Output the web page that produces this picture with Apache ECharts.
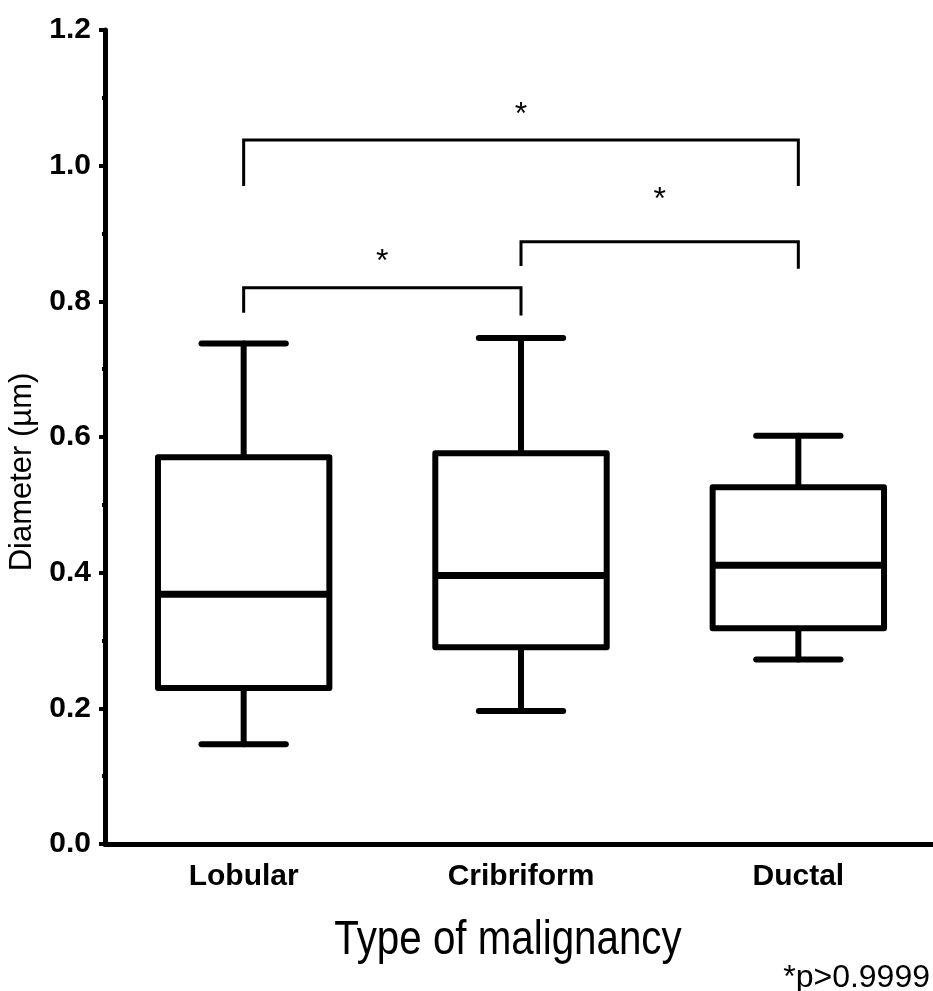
<!DOCTYPE html>
<html>
<head>
<meta charset="utf-8">
<title>Diameter by type of malignancy</title>
<script src="https://cdn.jsdelivr.net/npm/echarts@6/dist/echarts.min.js"></script>
<style>
  html, body { margin: 0; padding: 0; background: #fff; }
  #chart { width: 933px; height: 991px; }
</style>
</head>
<body>
<div id="chart"></div>
<script>
// Groups on the category axis
const categories = ['Lobular', 'Cribriform', 'Ductal'];

// Five-number summary per group (µm)
const whiskerLow  = [0.147, 0.196, 0.272];
const quartile1   = [0.230, 0.290, 0.318];
const medians     = [0.368, 0.396, 0.411];
const quartile3   = [0.570, 0.576, 0.526];
const whiskerHigh = [0.738, 0.746, 0.602];

// Pairwise comparison brackets: group indices, bracket level, drop ends, star level
const pairFrom   = [0, 1, 0];
const pairTo     = [1, 2, 2];
const pairLevel  = [0.820, 0.888, 1.038];
const pairDropL  = [0.783, 0.852, 0.970];
const pairDropR  = [0.779, 0.848, 0.970];
const starLevel  = [0.868, 0.960, 1.085];
const pairMarks  = ['*', '*', '*'];

// Y axis range and tick step
const yMin = 0, yMax = 1.2, yStep = 0.2;

const SANS = "'Liberation Sans', Arial, sans-serif";

const boxData = categories.map((c, i) =>
  [i, whiskerLow[i], quartile1[i], medians[i], quartile3[i], whiskerHigh[i]]);
const pairData = pairFrom.map((f, i) =>
  [f, pairTo[i], pairLevel[i], pairDropL[i], pairDropR[i], starLevel[i]]);

const chart = echarts.init(document.getElementById('chart'), null, { renderer: 'canvas' });

const STAR_SIZE = 32;

chart.setOption({
  backgroundColor: '#fff',
  animation: false,
  grid: {
    left: 105, top: 30, width: 832, height: 814,
    containLabel: false, outerBoundsMode: 'none'
  },
  xAxis: {
    type: 'category',
    data: categories,
    boundaryGap: true,
    axisLine: { lineStyle: { color: '#000', width: 5 } },
    axisTick: { alignWithLabel: true, length: 6, lineStyle: { color: '#000', width: 3 } },
    axisLabel: { color: '#000', fontFamily: SANS, fontWeight: 'bold', fontSize: 30, margin: 18 },
    splitLine: { show: false }
  },
  yAxis: {
    type: 'value',
    min: yMin, max: yMax, interval: yStep,
    axisLine: { show: true, lineStyle: { color: '#000', width: 5 } },
    axisTick: { show: true, length: 6, lineStyle: { color: '#000', width: 4 } },
    minorTick: { show: true, splitNumber: 2, length: 3, lineStyle: { color: '#000', width: 4 } },
    axisLabel: {
      color: '#000', fontFamily: SANS, fontWeight: 'bold', fontSize: 30, margin: 14,
      formatter: v => v.toFixed(1)
    },
    splitLine: { show: false },
    name: 'Diameter (µm)',
    nameLocation: 'middle',
    nameGap: 64,
    nameRotate: 90,
    nameTextStyle: { color: '#000', fontFamily: SANS, fontSize: 31, padding: [0, 70, 0, 0] }
  },
  graphic: [
    {
      // x axis title, drawn slightly condensed
      type: 'text',
      x: 508,
      y: 941,
      scaleX: 0.84,
      style: {
        text: 'Type of malignancy', fill: '#000',
        font: "48px " + SANS, align: 'center', verticalAlign: 'middle'
      }
    },
    {
      type: 'text',
      right: 3,
      bottom: -3,
      style: { text: '*p>0.9999', fill: '#000', font: "32px " + SANS }
    }
  ],
  series: [
    {
      type: 'custom',
      name: 'box',
      clip: false,
      data: boxData,
      renderItem: function (params, api) {
        const i = api.value(0);
        const xc = api.coord([i, 0])[0];
        const band = api.size([1, 0])[0];
        const half = band * 0.309;
        const cap = band * 0.152;
        const pLow = api.coord([i, api.value(1)])[1];
        const pQ1 = api.coord([i, api.value(2)])[1];
        const pMed = api.coord([i, api.value(3)])[1];
        const pQ3 = api.coord([i, api.value(4)])[1];
        const pHigh = api.coord([i, api.value(5)])[1];
        const ln = { stroke: '#000', lineWidth: 6, lineCap: 'round' };
        return {
          type: 'group',
          children: [
            { type: 'line', shape: { x1: xc, y1: pHigh, x2: xc, y2: pQ3 }, style: ln },
            { type: 'line', shape: { x1: xc, y1: pQ1, x2: xc, y2: pLow }, style: ln },
            { type: 'line', shape: { x1: xc - cap, y1: pHigh, x2: xc + cap, y2: pHigh }, style: ln },
            { type: 'line', shape: { x1: xc - cap, y1: pLow, x2: xc + cap, y2: pLow }, style: ln },
            {
              type: 'rect',
              shape: { x: xc - half, y: pQ3, width: half * 2, height: pQ1 - pQ3 },
              style: { fill: '#fff', stroke: '#000', lineWidth: 6, lineJoin: 'round' }
            },
            { type: 'line', shape: { x1: xc - half, y1: pMed, x2: xc + half, y2: pMed },
              style: { stroke: '#000', lineWidth: 7 } }
          ]
        };
      }
    },
    {
      type: 'custom',
      name: 'comparisons',
      clip: false,
      data: pairData,
      renderItem: function (params, api) {
        const a = api.value(0), b = api.value(1);
        const xa = api.coord([a, 0])[0];
        const xb = api.coord([b, 0])[0];
        const yTop = api.coord([a, api.value(2)])[1];
        const yL = api.coord([a, api.value(3)])[1];
        const yR = api.coord([b, api.value(4)])[1];
        const yStar = api.coord([a, api.value(5)])[1];
        return {
          type: 'group',
          children: [
            {
              type: 'polyline',
              shape: { points: [[xa, yL], [xa, yTop], [xb, yTop], [xb, yR]] },
              style: { stroke: '#000', lineWidth: 3, fill: null }
            },
            {
              // the asterisk glyph sits high in its em box, so nudge it down
              type: 'text',
              x: (xa + xb) / 2,
              y: yStar + STAR_SIZE * 0.22,
              style: {
                text: pairMarks[params.dataIndex],
                fill: '#000',
                font: STAR_SIZE + "px " + SANS,
                align: 'center',
                verticalAlign: 'middle'
              }
            }
          ]
        };
      }
    }
  ]
});
</script>
</body>
</html>
